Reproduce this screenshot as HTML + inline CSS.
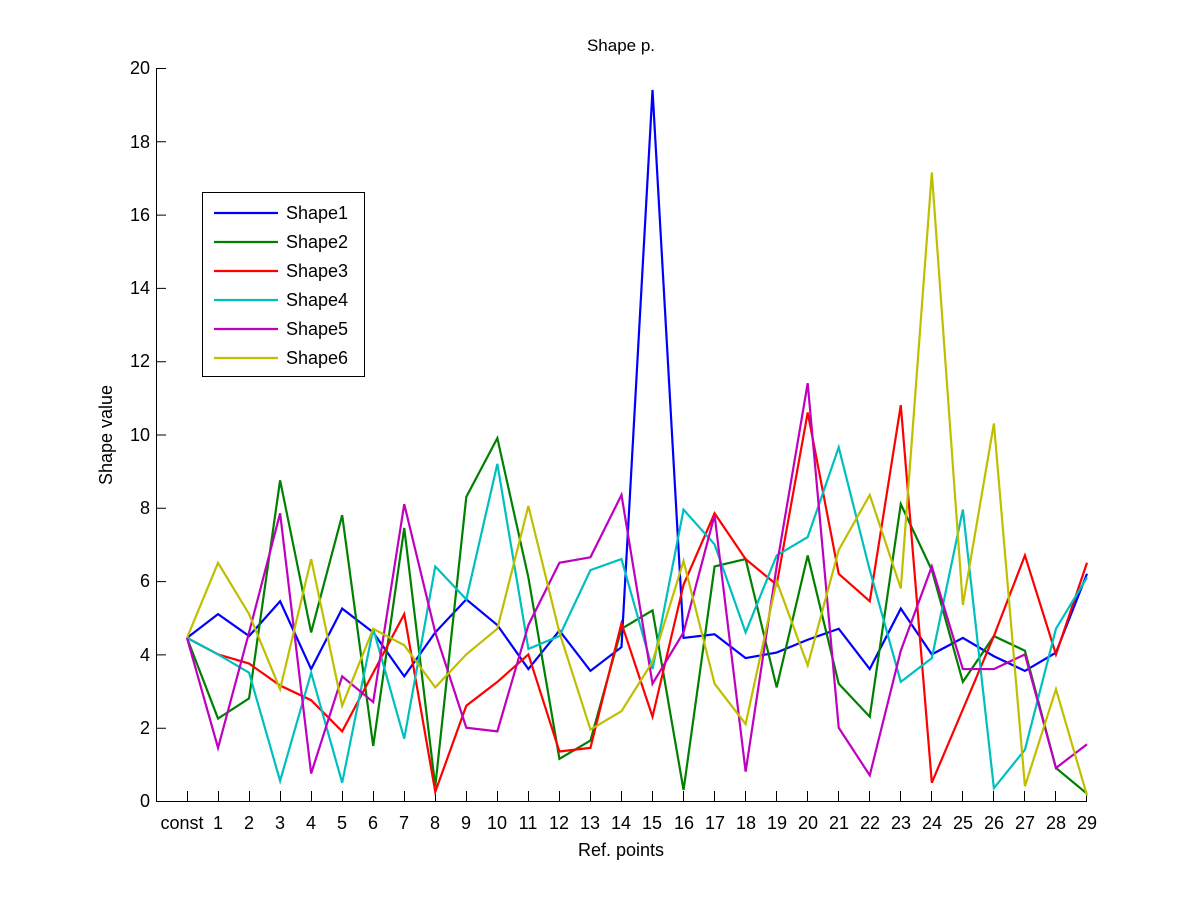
<!DOCTYPE html>
<html><head><meta charset="utf-8"><style>
html,body{margin:0;padding:0;background:#fff;}
svg{display:block;font-family:"Liberation Sans",Arial,sans-serif;}
</style></head><body>
<svg width="1201" height="901" viewBox="0 0 1201 901" xmlns="http://www.w3.org/2000/svg">
<rect width="1201" height="901" fill="#fff"/>
<g stroke="#000" stroke-width="1" fill="none">
<line x1="156" y1="801.5" x2="1087" y2="801.5"/>
<line x1="156.5" y1="68" x2="156.5" y2="802"/>
</g>
<g stroke="#000" stroke-width="1">
<path d="M187.5 801v-10M218.5 801v-10M249.5 801v-10M280.5 801v-10M311.5 801v-10M342.5 801v-10M373.5 801v-10M404.5 801v-10M435.5 801v-10M466.5 801v-10M497.5 801v-10M528.5 801v-10M559.5 801v-10M590.5 801v-10M621.5 801v-10M652.5 801v-10M683.5 801v-10M714.5 801v-10M745.5 801v-10M776.5 801v-10M807.5 801v-10M838.5 801v-10M869.5 801v-10M900.5 801v-10M931.5 801v-10M962.5 801v-10M993.5 801v-10M1024.5 801v-10M1055.5 801v-10M1086.5 801v-10"/>
<path d="M157 728.2h9M157 654.9h9M157 581.6h9M157 508.3h9M157 435h9M157 361.7h9M157 288.4h9M157 215.1h9M157 141.8h9M157 68.5h9"/>
</g>
<g font-size="18" fill="#000" text-anchor="middle">
<text x="182" y="829">const</text>
<text x="218" y="829">1</text><text x="249" y="829">2</text><text x="280" y="829">3</text><text x="311" y="829">4</text><text x="342" y="829">5</text><text x="373" y="829">6</text><text x="404" y="829">7</text><text x="435" y="829">8</text><text x="466" y="829">9</text><text x="497" y="829">10</text><text x="528" y="829">11</text><text x="559" y="829">12</text><text x="590" y="829">13</text><text x="621" y="829">14</text><text x="652" y="829">15</text><text x="684" y="829">16</text><text x="715" y="829">17</text><text x="746" y="829">18</text><text x="777" y="829">19</text><text x="808" y="829">20</text><text x="839" y="829">21</text><text x="870" y="829">22</text><text x="901" y="829">23</text><text x="932" y="829">24</text><text x="963" y="829">25</text><text x="994" y="829">26</text><text x="1025" y="829">27</text><text x="1056" y="829">28</text><text x="1087" y="829">29</text>
</g>
<g font-size="18" fill="#000" text-anchor="end">
<text x="150" y="807">0</text><text x="150" y="734">2</text><text x="150" y="661">4</text><text x="150" y="587">6</text><text x="150" y="514">8</text><text x="150" y="441">10</text><text x="150" y="367">12</text><text x="150" y="294">14</text><text x="150" y="221">16</text><text x="150" y="148">18</text><text x="150" y="74">20</text>
</g>
<text x="621" y="51" font-size="17" text-anchor="middle">Shape p.</text>
<text x="621" y="856" font-size="18" text-anchor="middle">Ref. points</text>
<text x="0" y="0" font-size="18" text-anchor="middle" transform="translate(112,435) rotate(-90)">Shape value</text>
<g transform="translate(187,801) scale(31.0345,-36.65)" fill="none" stroke-width="2.2" stroke-linejoin="miter">
<polyline vector-effect="non-scaling-stroke" stroke="#0000ff" points="0,4.45 1,5.1 2,4.5 3,5.45 4,3.6 5,5.25 6,4.6 7,3.4 8,4.6 9,5.5 10,4.8 11,3.6 12,4.65 13,3.55 14,4.2 15,19.4 16,4.45 17,4.55 18,3.9 19,4.05 20,4.4 21,4.7 22,3.6 23,5.25 24,4.0 25,4.45 26,3.95 27,3.55 28,4.05 29,6.2"/>
<polyline vector-effect="non-scaling-stroke" stroke="#008000" points="0,4.45 1,2.25 2,2.8 3,8.75 4,4.6 5,7.8 6,1.5 7,7.45 8,0.4 9,8.3 10,9.9 11,6.1 12,1.15 13,1.65 14,4.7 15,5.2 16,0.3 17,6.4 18,6.6 19,3.1 20,6.7 21,3.2 22,2.3 23,8.1 24,6.3 25,3.25 26,4.5 27,4.1 28,0.9 29,0.2"/>
<polyline vector-effect="non-scaling-stroke" stroke="#ff0000" points="0,4.45 1,4.0 2,3.75 3,3.15 4,2.75 5,1.9 6,3.5 7,5.1 8,0.25 9,2.6 10,3.25 11,4.0 12,1.35 13,1.45 14,4.85 15,2.3 16,5.9 17,7.85 18,6.6 19,5.9 20,10.6 21,6.2 22,5.45 23,10.8 24,0.5 25,2.5 26,4.5 27,6.7 28,4.0 29,6.5"/>
<polyline vector-effect="non-scaling-stroke" stroke="#00bfbf" points="0,4.45 1,4.0 2,3.5 3,0.55 4,3.5 5,0.5 6,4.7 7,1.7 8,6.4 9,5.5 10,9.2 11,4.15 12,4.5 13,6.3 14,6.6 15,3.6 16,7.95 17,7.0 18,4.6 19,6.7 20,7.2 21,9.65 22,6.3 23,3.25 24,3.9 25,7.95 26,0.35 27,1.4 28,4.7 29,6.1"/>
<polyline vector-effect="non-scaling-stroke" stroke="#bf00bf" points="0,4.45 1,1.45 2,4.6 3,7.85 4,0.75 5,3.4 6,2.7 7,8.1 8,4.6 9,2.0 10,1.9 11,4.8 12,6.5 13,6.65 14,8.35 15,3.2 16,4.6 17,7.8 18,0.8 19,6.4 20,11.4 21,2.0 22,0.7 23,4.1 24,6.4 25,3.6 26,3.6 27,4.0 28,0.9 29,1.55"/>
<polyline vector-effect="non-scaling-stroke" stroke="#bfbf00" points="0,4.45 1,6.5 2,5.1 3,3.05 4,6.6 5,2.6 6,4.7 7,4.25 8,3.1 9,4.0 10,4.7 11,8.05 12,4.6 13,1.95 14,2.45 15,3.8 16,6.55 17,3.2 18,2.1 19,6.0 20,3.7 21,6.85 22,8.35 23,5.8 24,17.15 25,5.35 26,10.3 27,0.4 28,3.05 29,0.15"/>
</g>
<rect x="202.5" y="192.5" width="162" height="184" fill="#fff" stroke="#000" stroke-width="1"/>
<g stroke-width="2.2">
<line x1="214" y1="213" x2="278" y2="213" stroke="#0000ff"/>
<line x1="214" y1="242" x2="278" y2="242" stroke="#008000"/>
<line x1="214" y1="271" x2="278" y2="271" stroke="#ff0000"/>
<line x1="214" y1="300" x2="278" y2="300" stroke="#00bfbf"/>
<line x1="214" y1="329" x2="278" y2="329" stroke="#bf00bf"/>
<line x1="214" y1="358" x2="278" y2="358" stroke="#bfbf00"/>
</g>
<g font-size="18" fill="#000">
<text x="286" y="219">Shape1</text>
<text x="286" y="248">Shape2</text>
<text x="286" y="277">Shape3</text>
<text x="286" y="306">Shape4</text>
<text x="286" y="335">Shape5</text>
<text x="286" y="364">Shape6</text>
</g>
</svg>
</body></html>
